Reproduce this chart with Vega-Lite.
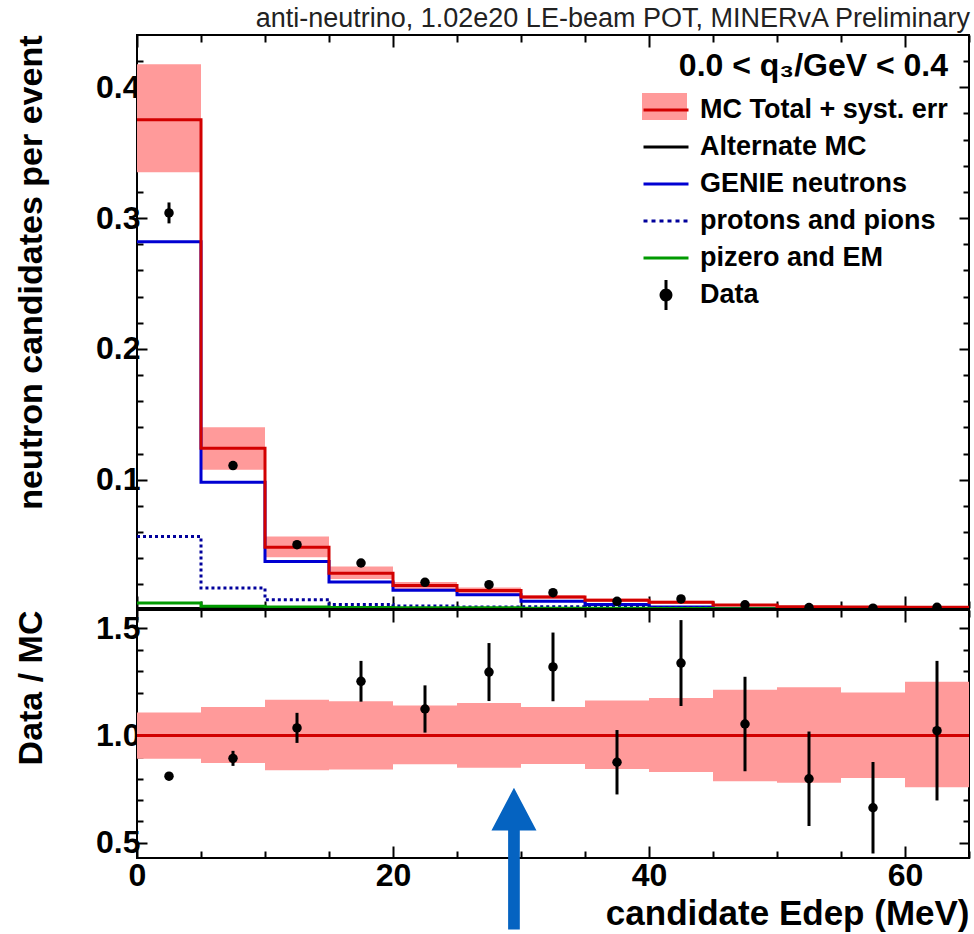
{
  "$schema": "https://vega.github.io/schema/vega-lite/v6.json",
  "padding": {"left": 13, "top": 4, "right": 0, "bottom": 0},
  "background": "white",
  "spacing": -2,
  "config": {
    "font": "Liberation Sans",
    "view": {"stroke": "black", "strokeWidth": 2},
    "axis": {
      "labelFont": "Liberation Sans", "labelFontSize": 32, "labelFontWeight": "bold", "labelColor": "black",
      "titleFont": "Liberation Sans", "titleFontSize": 34, "titleFontWeight": "bold", "titleColor": "black",
      "tickColor": "black", "tickWidth": 2, "domain": false, "grid": false, "labelFlush": false, "labelOverlap": false
    },
    "legend": {"labelFont": "Liberation Sans", "titleFont": "Liberation Sans", "labelLimit": 0, "titleLimit": 0}
  },
  "datasets": {
    "bins": [
      {"lo":0,"hi":5,"c":2.5,"mc_lo":0.335,"mc_hi":0.4176,"d":0.304,"de":0.008,"r":0.811,"re":0.012,"r_lo":0.892,"r_hi":1.108},
      {"lo":5,"hi":10,"c":7.5,"mc_lo":0.1076,"mc_hi":0.1402,"d":0.1109,"de":0.003,"r":0.894,"re":0.035,"r_lo":0.873,"r_hi":1.133},
      {"lo":10,"hi":15,"c":12.5,"mc_lo":0.0407,"mc_hi":0.0567,"d":0.0504,"de":0.0012,"r":1.036,"re":0.07,"r_lo":0.839,"r_hi":1.167},
      {"lo":15,"hi":20,"c":17.5,"mc_lo":0.0242,"mc_hi":0.0338,"d":0.0364,"de":0.0011,"r":1.253,"re":0.095,"r_lo":0.842,"r_hi":1.16},
      {"lo":20,"hi":25,"c":22.5,"mc_lo":0.0166,"mc_hi":0.0219,"d":0.0216,"de":0.001,"r":1.124,"re":0.11,"r_lo":0.867,"r_hi":1.14},
      {"lo":25,"hi":30,"c":27.5,"mc_lo":0.013,"mc_hi":0.0176,"d":0.0198,"de":0.001,"r":1.296,"re":0.135,"r_lo":0.85,"r_hi":1.152},
      {"lo":30,"hi":35,"c":32.5,"mc_lo":0.009,"mc_hi":0.0118,"d":0.0137,"de":0.0008,"r":1.32,"re":0.16,"r_lo":0.868,"r_hi":1.133},
      {"lo":35,"hi":40,"c":37.5,"mc_lo":0.0068,"mc_hi":0.0093,"d":0.0071,"de":0.0006,"r":0.876,"re":0.15,"r_lo":0.845,"r_hi":1.164},
      {"lo":40,"hi":45,"c":42.5,"mc_lo":0.0053,"mc_hi":0.0075,"d":0.0089,"de":0.0006,"r":1.338,"re":0.2,"r_lo":0.831,"r_hi":1.175},
      {"lo":45,"hi":50,"c":47.5,"mc_lo":0.0033,"mc_hi":0.0051,"d":0.0044,"de":0.0005,"r":1.054,"re":0.22,"r_lo":0.788,"r_hi":1.214},
      {"lo":50,"hi":55,"c":52.5,"mc_lo":0.0024,"mc_hi":0.0038,"d":0.0023,"de":0.0004,"r":0.799,"re":0.22,"r_lo":0.78,"r_hi":1.225},
      {"lo":55,"hi":60,"c":57.5,"mc_lo":0.0022,"mc_hi":0.0032,"d":0.0019,"de":0.0004,"r":0.664,"re":0.213,"r_lo":0.803,"r_hi":1.201},
      {"lo":60,"hi":65,"c":62.5,"mc_lo":0.0019,"mc_hi":0.0031,"d":0.0025,"de":0.0004,"r":1.023,"re":0.325,"r_lo":0.76,"r_hi":1.251}
    ],
    "steps": [
      {"x":0,"mc":0.3753,"genie":0.2819,"pp":0.0567,"pz":0.0059},
      {"x":5,"mc":0.1242,"genie":0.0982,"pp":0.0173,"pz":0.0033},
      {"x":10,"mc":0.0484,"genie":0.0376,"pp":0.0084,"pz":0.0027},
      {"x":15,"mc":0.0285,"genie":0.0219,"pp":0.0046,"pz":0.0024},
      {"x":20,"mc":0.0192,"genie":0.0155,"pp":0.0035,"pz":0.0022},
      {"x":25,"mc":0.0153,"genie":0.0122,"pp":0.0028,"pz":0.0021},
      {"x":30,"mc":0.0104,"genie":0.0071,"pp":0.003,"pz":0.0019},
      {"x":35,"mc":0.008,"genie":0.0046,"pp":0.0028,"pz":0.0018},
      {"x":40,"mc":0.0064,"genie":0.0027,"pp":0.0024,"pz":0.0017},
      {"x":45,"mc":0.0042,"genie":0.0015,"pp":0.0016,"pz":0.0015},
      {"x":50,"mc":0.0029,"genie":0.0012,"pp":0.0013,"pz":0.0013},
      {"x":55,"mc":0.0027,"genie":0.0011,"pp":0.0012,"pz":0.0012},
      {"x":60,"mc":0.0025,"genie":0.001,"pp":0.001,"pz":0.001},
      {"x":65,"mc":0.0025,"genie":0.001,"pp":0.001,"pz":0.001}
    ]
  },
  "vconcat": [
    {
      "width": 832,
      "height": 573,
      "title": {"text": "anti-neutrino, 1.02e20 LE-beam POT, MINERvA Preliminary", "anchor": "end", "fontSize": 27, "fontWeight": "normal", "color": "#222222", "offset": 1, "font": "Liberation Sans"},
      "resolve": {"axis": {"x": "independent", "y": "independent"}},
      "layer": [
        {
          "data": {"name": "bins"},
          "mark": {"type": "rect", "clip": true},
          "encoding": {
            "x": {"field": "lo", "type": "quantitative", "scale": {"domain": [0, 65], "nice": false, "zero": false},
              "axis": {"orient": "bottom", "values": [0,5,10,15,20,25,30,35,40,45,50,55,60,65], "labels": false, "title": null,
                "tickSize": {"condition": {"test": "datum.value % 20 === 0", "value": -12}, "value": -7}}},
            "x2": {"field": "hi"},
            "y": {"field": "mc_lo", "type": "quantitative", "scale": {"domain": [0.002, 0.44], "nice": false, "zero": false},
              "axis": {"orient": "left", "values": [0.02,0.04,0.06,0.08,0.1,0.12,0.14,0.16,0.18,0.2,0.22,0.24,0.26,0.28,0.3,0.32,0.34,0.36,0.38,0.4,0.42],
                "labelExpr": "abs(datum.value*10 - round(datum.value*10)) < 0.001 ? format(datum.value, '.1f') : ''",
                "tickSize": {"condition": {"test": "abs(datum.value*10 - round(datum.value*10)) < 0.001", "value": -10}, "value": -6},
                "labelPadding": 7, "title": "neutron candidates per event", "titleAnchor": "end", "titlePadding": 47}},
            "y2": {"field": "mc_hi"},
            "fill": {"datum": "MC Total + syst. err", "type": "nominal", "scale": {"range": ["#ff9a9a"]},
              "legend": {"title": null, "orient": "none", "legendX": 505, "legendY": 49,
                "symbolType": "M-1,-0.6H1V0.6H-1Z", "symbolSize": 2025, "symbolStrokeWidth": 0, "symbolOpacity": 1,
                "labelFontSize": 27, "labelFontWeight": "bold", "labelExpr": "''", "labelOffset": 10}}
          }
        },
        {
          "data": {"name": "steps"},
          "mark": {"type": "line", "interpolate": "step-after", "strokeWidth": 3, "clip": true},
          "encoding": {
            "x": {"field": "x", "type": "quantitative",
              "axis": {"orient": "top", "values": [0,5,10,15,20,25,30,35,40,45,50,55,60,65], "labels": false, "title": null,
                "tickSize": {"condition": {"test": "datum.value % 20 === 0", "value": -12}, "value": -7}}},
            "y": {"field": "genie", "type": "quantitative",
              "axis": {"orient": "right", "values": [0.02,0.04,0.06,0.08,0.1,0.12,0.14,0.16,0.18,0.2,0.22,0.24,0.26,0.28,0.3,0.32,0.34,0.36,0.38,0.4,0.42], "labels": false, "title": null,
                "tickSize": {"condition": {"test": "abs(datum.value*10 - round(datum.value*10)) < 0.001", "value": -10}, "value": -6}}},
            "stroke": {"datum": "GENIE neutrons", "type": "nominal"}
          }
        },
        {
          "data": {"name": "steps"},
          "mark": {"type": "line", "interpolate": "step-after", "strokeWidth": 3, "strokeDash": [3, 3], "clip": true},
          "encoding": {
            "x": {"field": "x", "type": "quantitative", "axis": null},
            "y": {"field": "pp", "type": "quantitative", "axis": null},
            "stroke": {"datum": "protons and pions", "type": "nominal"}
          }
        },
        {
          "data": {"name": "steps"},
          "mark": {"type": "line", "interpolate": "step-after", "strokeWidth": 3, "clip": true},
          "encoding": {
            "x": {"field": "x", "type": "quantitative", "axis": null},
            "y": {"field": "pz", "type": "quantitative", "axis": null},
            "stroke": {"datum": "pizero and EM", "type": "nominal"}
          }
        },
        {
          "data": {"name": "steps"},
          "mark": {"type": "line", "interpolate": "step-after", "strokeWidth": 3, "clip": true},
          "encoding": {
            "x": {"field": "x", "type": "quantitative", "axis": null},
            "y": {"field": "mc", "type": "quantitative", "axis": null},
            "stroke": {"datum": "MC Total + syst. err", "type": "nominal",
              "scale": {"domain": ["MC Total + syst. err", "Alternate MC", "GENIE neutrons", "protons and pions", "pizero and EM", "Data"],
                "range": ["#d20000", "#000000", "#0000d2", "#00009c", "#009a00", "#000000"]},
              "legend": {"title": "0.0 <  q₃/GeV < 0.4", "orient": "none", "legendX": 505, "legendY": 16,
                "titleFontSize": 32, "titleFontWeight": "bold", "titleColor": "black", "titleAnchor": "end", "titlePadding": 3,
                "labelFontSize": 27, "labelFontWeight": "bold", "labelColor": "black", "labelOffset": 10,
                "symbolSize": 2025, "symbolStrokeWidth": 3, "rowPadding": 0,
                "encode": {"symbols": {"update": {
                  "shape": {"signal": "datum.value === 'Data' ? 'M0,-0.67V0.67M0.22,0A0.22,0.22 0 1 1 -0.22,0A0.22,0.22 0 1 1 0.22,0Z' : 'M-1,0H1'"},
                  "fill": {"signal": "datum.value === 'Data' ? 'black' : 'transparent'"},
                  "strokeDash": {"signal": "datum.value === 'protons and pions' ? [4, 4] : [1, 0]"},
                  "opacity": {"value": 1}
                }}}}}
          }
        },
        {
          "data": {"name": "bins"},
          "transform": [{"calculate": "datum.d - datum.de", "as": "dlo"}, {"calculate": "datum.d + datum.de", "as": "dhi"}],
          "mark": {"type": "rule", "color": "black", "strokeWidth": 3, "clip": true},
          "encoding": {
            "x": {"field": "c", "type": "quantitative", "axis": null},
            "y": {"field": "dlo", "type": "quantitative", "axis": null},
            "y2": {"field": "dhi"}
          }
        },
        {
          "data": {"name": "bins"},
          "mark": {"type": "point", "filled": true, "color": "black", "size": 90, "opacity": 1, "clip": true},
          "encoding": {
            "x": {"field": "c", "type": "quantitative", "axis": null},
            "y": {"field": "d", "type": "quantitative", "axis": null}
          }
        }
      ]
    },
    {
      "width": 832,
      "height": 248,
      "resolve": {"axis": {"x": "independent", "y": "independent"}},
      "layer": [
        {
          "data": {"name": "bins"},
          "mark": {"type": "rect", "color": "#ff9a9a", "clip": true},
          "encoding": {
            "x": {"field": "lo", "type": "quantitative", "scale": {"domain": [0, 65], "nice": false, "zero": false},
              "axis": {"orient": "bottom", "values": [0,5,10,15,20,25,30,35,40,45,50,55,60,65],
                "labelExpr": "datum.value % 20 === 0 ? datum.label : ''",
                "tickSize": {"condition": {"test": "datum.value % 20 === 0", "value": -12}, "value": -7},
                "labelPadding": 14, "title": "candidate Edep (MeV)", "titleFontSize": 35, "titleAnchor": "end", "titlePadding": 0}},
            "x2": {"field": "hi"},
            "y": {"field": "r_lo", "type": "quantitative", "scale": {"domain": [0.43, 1.585], "nice": false, "zero": false},
              "axis": {"orient": "left", "values": [0.5,0.6,0.7,0.8,0.9,1.0,1.1,1.2,1.3,1.4,1.5],
                "labelExpr": "abs(datum.value*2 - round(datum.value*2)) < 0.001 ? format(datum.value, '.1f') : ''",
                "tickSize": {"condition": {"test": "abs(datum.value*2 - round(datum.value*2)) < 0.001", "value": -10}, "value": -6},
                "labelPadding": 7, "title": "Data / MC", "titleAnchor": "end", "titlePadding": 47}},
            "y2": {"field": "r_hi"}
          }
        },
        {
          "data": {"values": [{}]},
          "mark": {"type": "rule", "color": "#d20000", "strokeWidth": 3},
          "encoding": {"y": {"datum": 1.0, "type": "quantitative", "axis": null}}
        },
        {
          "data": {"name": "bins"},
          "transform": [{"calculate": "datum.r - datum.re", "as": "rlo"}, {"calculate": "datum.r + datum.re", "as": "rhi"}],
          "mark": {"type": "rule", "color": "black", "strokeWidth": 3, "clip": true},
          "encoding": {
            "x": {"field": "c", "type": "quantitative",
              "axis": {"orient": "top", "values": [0,5,10,15,20,25,30,35,40,45,50,55,60,65], "labels": false, "title": null,
                "tickSize": {"condition": {"test": "datum.value % 20 === 0", "value": -12}, "value": -7}}},
            "y": {"field": "rlo", "type": "quantitative",
              "axis": {"orient": "right", "values": [0.5,0.6,0.7,0.8,0.9,1.0,1.1,1.2,1.3,1.4,1.5], "labels": false, "title": null,
                "tickSize": {"condition": {"test": "abs(datum.value*2 - round(datum.value*2)) < 0.001", "value": -10}, "value": -6}}},
            "y2": {"field": "rhi"}
          }
        },
        {
          "data": {"name": "bins"},
          "mark": {"type": "point", "filled": true, "color": "black", "size": 90, "opacity": 1, "clip": true},
          "encoding": {
            "x": {"field": "c", "type": "quantitative", "axis": null},
            "y": {"field": "r", "type": "quantitative", "axis": null}
          }
        },
        {
          "data": {"values": [{}]},
          "mark": {"type": "point", "filled": true, "color": "#0563C1", "opacity": 1, "size": 2025, "strokeWidth": 0,
            "shape": "M0,0L1,1.9L0.26,1.9L0.26,6.3L-0.26,6.3L-0.26,1.9L-1,1.9Z"},
          "encoding": {
            "x": {"datum": 29.45, "type": "quantitative", "axis": null},
            "y": {"datum": 0.757, "type": "quantitative", "axis": null}
          }
        }
      ]
    }
  ]
}
